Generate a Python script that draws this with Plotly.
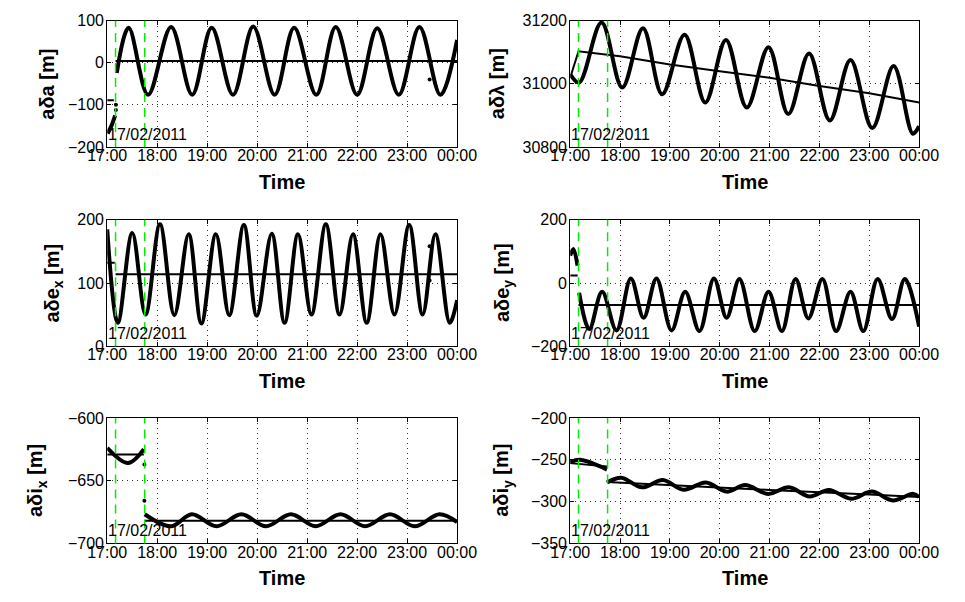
import pandas as pd
import plotly.graph_objects as go

W, H = 965, 602
BASE = pd.Timestamp("2011-02-17 17:00")
DATE_LABEL = "17/02/2011"

# x ticks: minutes after 17:00 and their labels
HOUR_MIN = [0, 60, 120, 180, 240, 300, 360, 420]
HOUR_TICKS = ["17:00", "18:00", "19:00", "20:00", "21:00", "22:00", "23:00", "00:00"]
X_RANGE_MIN = [0, 420]
MANEUVER_MIN = [10, 45]

# ---- a delta a ----
da_pre_t = [0.5, 5, 9.5]
da_pre_v = [-168, -150, -125]
da_t = [11.5, 25.7, 49, 76.7, 102, 125.4, 151, 175.3, 201, 224.4, 251, 274.3, 300, 324.1, 350, 374.8, 400, 420]
da_v = [-24, 83, -76, 85, -76, 83, -76, 86, -76, 83, -76, 85, -76, 82, -76, 85, -76, 54]
da_mean_pre_t = [0, 8]
da_mean_pre_v = [-89, -89]
da_mean_t = [10, 420]
da_mean_v = [4, 4]
da_dots_t = [387, 10.4, 10.4]
da_dots_v = [-40, -112, -100]
da_yticks = [-200, -100, 0, 100]

# ---- a delta lambda ----
dl_t = [0, 10.8, 37.7, 62.6, 87.6, 110.7, 137.6, 162.6, 187.5, 212.5, 238.7, 262.5, 287.5, 312.5, 337.4, 363.6, 389.3, 412.4, 420]
dl_v = [31030, 31004, 31194, 30988, 31176, 30967, 31155, 30941, 31139, 30925, 31116, 30904, 31096, 30884, 31075, 30860, 31056, 30842, 30866]
dl_mean_t = [1, 10, 60, 120, 180, 240, 300, 360, 420]
dl_mean_v = [31028, 31103, 31087, 31061, 31040, 31019, 30993, 30970, 30941]
dl_yticks = [30800, 31000, 31200]

# ---- a delta e_x ----
dex_t = [0, 12.7, 30, 46, 63.3, 80.5, 97.8, 113, 130.4, 146.5, 164, 179.5, 197.5, 212.9, 229, 245.1, 262.4, 278.9, 295, 311.5, 328, 344.8, 362.5, 378.6, 394, 411.2, 420]
dex_v = [185, 37, 179, 50, 193, 49, 177, 36, 177, 49, 192, 48, 178, 37, 177, 50, 193, 50, 177, 37, 177, 50, 192, 50, 177, 37, 73]
dex_mean_pre_t = [0, 9]
dex_mean_pre_v = [132, 132]
dex_mean_t = [10, 420]
dex_mean_v = [114, 114]
dex_dots_t = [387, 387]
dex_dots_v = [158, 104]
dex_yticks = [0, 100, 200]

# ---- a delta e_y ----
dey_pre_t = [0, 3.8, 8.8]
dey_pre_v = [87, 108, 55]
dey_t = [10.8, 23, 38.4, 55.7, 73, 88.4, 103.8, 122, 138.4, 155.6, 173, 188.3, 203.7, 222.1, 238.7, 254.8, 271.3, 286.7, 303.6, 320.1, 337.4, 352.8, 370.1, 387.4, 402.8, 420]
dey_v = [-31, -146, -28, -150, 14, -110, 14, -150, -28, -152, 14, -110, 13, -152, -28, -152, 13, -112, 13, -152, -28, -152, 13, -114, 13, -138]
dey_mean_pre_t = [0, 9]
dey_mean_pre_v = [24, 24]
dey_mean_t = [10, 420]
dey_mean_v = [-70, -70]
dey_yticks = [-200, 0, 200]

# ---- a delta i_x ----
dix_pre_t = [0, 25, 44]
dix_pre_v = [-623.8, -635.9, -624.8]
dix_t = [45, 76.7, 101.6, 131.2, 161.1, 190.6, 220.6, 250.1, 280, 309.6, 339.5, 369, 398.9, 420]
dix_v = [-676.7, -686.3, -676.7, -686.3, -676.7, -686.3, -676.7, -686.3, -676.7, -686.3, -676.7, -686.3, -676.7, -682.9]
dix_mean_pre_t = [0, 44]
dix_mean_pre_v = [-629, -629]
dix_mean_t = [45, 420]
dix_mean_v = [-681.9, -681.9]
dix_dots_t = [44.6, 44.6]
dix_dots_v = [-637, -666]
dix_yticks = [-700, -650, -600]

# ---- a delta i_y ----
diy_pre_t = [0, 11.5, 44.2]
diy_pre_v = [-253.1, -250, -261.6]
diy_t = [44.2, 61.5, 86.5, 111.5, 136.4, 163.3, 188.3, 210.6, 238.3, 263.3, 288.2, 311.3, 338.2, 363.2, 388.2, 413.1, 420]
diy_v = [-277.1, -271.3, -282.9, -274, -285.7, -277.1, -288, -280.2, -290.7, -282.9, -293.8, -286, -296.5, -288, -298.5, -290.7, -294.6]
diy_mean_pre_t = [0, 44.2]
diy_mean_pre_v = [-253.9, -257.8]
diy_mean_t = [44.2, 120, 240, 360, 420]
diy_mean_v = [-276.5, -280.5, -286, -291.5, -294.5]
diy_yticks = [-350, -300, -250, -200]


def tt(mins):
    return BASE + pd.to_timedelta(pd.Series(mins, dtype=float), unit="min")


def fmt(v):
    return str(v).replace("-", "\u2212")


panels = [
    dict(title="<b>aδa [m]</b>", col=0, row=0, ticks=da_yticks, tx=28,
         curves=[(da_pre_t, da_pre_v), (da_t, da_v)],
         means=[(da_mean_pre_t, da_mean_pre_v), (da_mean_t, da_mean_v)],
         dots=(da_dots_t, da_dots_v)),
    dict(title="<b>aδλ [m]</b>", col=1, row=0, ticks=dl_yticks, tx=497,
         curves=[(dl_t, dl_v)], means=[(dl_mean_t, dl_mean_v)], dots=None),
    dict(title="<b>aδe<sub>x</sub> [m]</b>", col=0, row=1, ticks=dex_yticks, tx=34,
         curves=[(dex_t, dex_v)],
         means=[(dex_mean_pre_t, dex_mean_pre_v), (dex_mean_t, dex_mean_v)],
         dots=(dex_dots_t, dex_dots_v)),
    dict(title="<b>aδe<sub>y</sub> [m]</b>", col=1, row=1, ticks=dey_yticks, tx=504,
         curves=[(dey_pre_t, dey_pre_v), (dey_t, dey_v)],
         means=[(dey_mean_pre_t, dey_mean_pre_v), (dey_mean_t, dey_mean_v)], dots=None),
    dict(title="<b>aδi<sub>x</sub> [m]</b>", col=0, row=2, ticks=dix_yticks, tx=18,
         curves=[(dix_pre_t, dix_pre_v), (dix_t, dix_v)],
         means=[(dix_mean_pre_t, dix_mean_pre_v), (dix_mean_t, dix_mean_v)],
         dots=(dix_dots_t, dix_dots_v)),
    dict(title="<b>aδi<sub>y</sub> [m]</b>", col=1, row=2, ticks=diy_yticks, tx=504,
         curves=[(diy_pre_t, diy_pre_v), (diy_t, diy_v)],
         means=[(diy_mean_pre_t, diy_mean_pre_v), (diy_mean_t, diy_mean_v)], dots=None),
]

COLS = [(91, 456), (574, 938)]
ROWS = [(13, 143), (218, 348), (422, 551)]
FONT = "Liberation Sans, Arial, Helvetica, sans-serif"

fig = go.Figure()
layout = dict(
    width=W, height=H, margin=dict(l=0, r=0, t=0, b=0),
    paper_bgcolor="white", plot_bgcolor="white", showlegend=False,
    font=dict(family=FONT, size=16, color="black"),
)
annotations = []
shapes = []

for i, p in enumerate(panels):
    n = i + 1
    xs = "x" if n == 1 else f"x{n}"
    ys = "y" if n == 1 else f"y{n}"
    x0, x1 = COLS[p["col"]]
    y0, y1 = ROWS[p["row"]]
    xd = [x0 / W, x1 / W]
    yd = [1 - y1 / H, 1 - y0 / H]
    common = dict(showline=True, linecolor="black", linewidth=1, mirror="ticks",
                  ticks="inside", ticklen=4, tickcolor="black", tickwidth=1,
                  showgrid=True, gridcolor="#333333", gridwidth=1, griddash="1px,4px",
                  zeroline=False, tickfont=dict(size=16, family=FONT, color="black"))
    layout[f"xaxis{'' if n == 1 else n}"] = dict(
        common, domain=xd, anchor=ys, type="date", ticklabelstandoff=-6,
        range=list(tt(X_RANGE_MIN)), tickvals=list(tt(HOUR_MIN)), ticktext=HOUR_TICKS)
    layout[f"yaxis{'' if n == 1 else n}"] = dict(
        common, domain=yd, anchor=xs, range=[p["ticks"][0], p["ticks"][-1]],
        ticklabelstandoff=-1,
        tickvals=p["ticks"], ticktext=[fmt(v) for v in p["ticks"]])

    for mt, mv in p["means"]:
        fig.add_trace(go.Scatter(x=tt(mt), y=mv, xaxis=xs, yaxis=ys, mode="lines",
                                 line=dict(color="black", width=2), hoverinfo="skip"))
    for ct, cv in p["curves"]:
        fig.add_trace(go.Scatter(x=tt(ct), y=cv, xaxis=xs, yaxis=ys, mode="lines",
                                 line=dict(color="black", width=4, shape="spline", smoothing=1),
                                 hoverinfo="skip"))
    if p["dots"]:
        fig.add_trace(go.Scatter(x=tt(p["dots"][0]), y=p["dots"][1], xaxis=xs, yaxis=ys,
                                 mode="markers", marker=dict(color="black", size=4)))
    for m in tt(MANEUVER_MIN):
        shapes.append(dict(type="line", xref=xs, yref=f"{ys} domain", x0=m, x1=m, y0=0, y1=1,
                           line=dict(color="#00ee00", width=1.5, dash="9px,6px"), layer="above"))

    annotations.append(dict(text=p["title"], x=p["tx"] / W, y=1 - (y0 + y1) / 2 / H,
                            xref="paper", yref="paper", xanchor="center", yanchor="middle",
                            textangle=-90, showarrow=False, font=dict(size=20, family=FONT)))
    annotations.append(dict(text="<b>Time</b>", x=(x0 + x1) / 2 / W, y=1 - (y1 + 36) / H,
                            xref="paper", yref="paper", xanchor="center", yanchor="middle",
                            showarrow=False, font=dict(size=20, family=FONT)))
    annotations.append(dict(text=DATE_LABEL, x=0, y=0, xref=f"{xs} domain", yref=f"{ys} domain",
                            xanchor="left", yanchor="bottom", showarrow=False, xshift=-1, yshift=2,
                            font=dict(size=16, family=FONT, color="black")))

layout["annotations"] = annotations
layout["shapes"] = shapes
fig.update_layout(**layout)
fig.write_html("out.html")
